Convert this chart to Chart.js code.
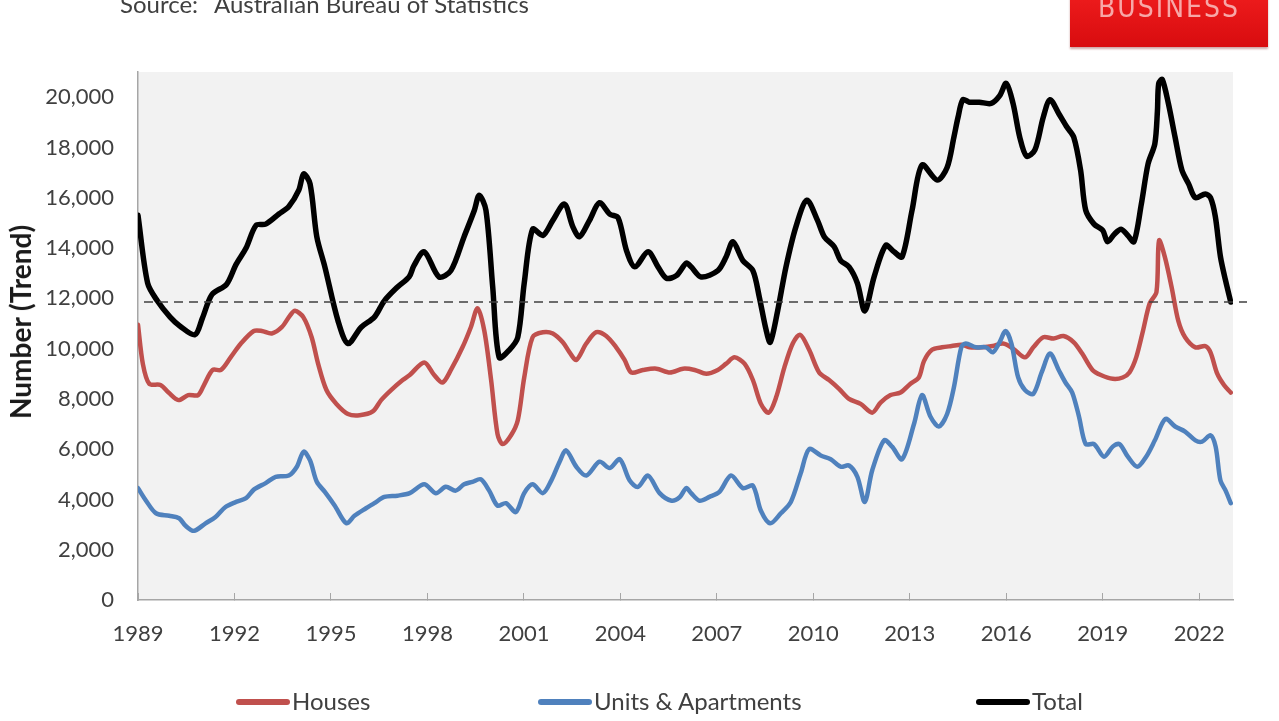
<!DOCTYPE html>
<html lang="en">
<head>
<meta charset="utf-8">
<title>Dwelling approvals</title>
<script src="https://cdn.jsdelivr.net/npm/chart.js@4.4.1/dist/chart.umd.min.js"></script>
<style>
  body { margin: 0; background: #fff; }
  .page { position: relative; width: 1279px; height: 721px; overflow: hidden; font-family: Lato, sans-serif; color: #404040; }
  .chart-wrap { position: absolute; left: 0; top: 0; width: 1279px; height: 721px; }
  .source { position: absolute; top: -11px; font-size: 24px; white-space: nowrap; }
  .source.label { left: 120px; }
  .source.text { left: 214px; }
  .brand {
    position: absolute; left: 1070px; top: -20px; width: 198px; height: 67px;
    background: linear-gradient(#f42020, #d80c0f);
    box-shadow: 0 2px 2px rgba(120, 0, 0, 0.35);
    color: #f7a7a7; font-family: "DejaVu Sans Condensed", "DejaVu Sans", sans-serif;
    font-size: 28px; letter-spacing: 2px; text-align: center; line-height: 56px;
  }
  .y-title {
    position: absolute; left: 20px; top: 322px; transform: translate(-50%, -50%) rotate(-90deg);
    font-weight: 700; font-size: 28px; color: #1a1a1a; white-space: nowrap;
  }
  .legend-item { position: absolute; top: 686px; font-size: 24px; line-height: 30px; white-space: nowrap; color: #404040; }
  .legend-item i { display: inline-block; width: 54px; height: 6px; border-radius: 3px; vertical-align: middle; margin-right: 2px; position: relative; top: -2px; }
</style>
</head>
<body>
<div class="page">
  <div class="chart-wrap"><canvas id="approvalsChart"></canvas></div>
  <div class="source label">Source:</div>
  <div class="source text">Australian Bureau of Statistics</div>
  <div class="brand">BUSINESS</div>
  <div class="y-title">Number (Trend)</div>
  <div id="legendRoot"></div>
</div>
<script>
// values, x = decimal year
const housesYears = [1989.0, 1989.15, 1989.35, 1989.7, 1989.95, 1990.26, 1990.56, 1990.87, 1991.07, 1991.32, 1991.58, 1991.88,
  1992.2, 1992.6, 1992.85, 1993.16, 1993.47, 1993.72, 1993.88, 1994.14, 1994.4, 1994.6, 1994.86, 1995.17, 1995.53, 1995.89,
  1996.3, 1996.56, 1996.87, 1997.23, 1997.45, 1997.9, 1998.21, 1998.47, 1998.73, 1999.09, 1999.35, 1999.56, 1999.77, 1999.98,
  2000.18, 2000.34, 2000.6, 2000.81, 2001.01, 2001.27, 2001.59, 2001.9, 2002.21, 2002.42, 2002.63, 2002.94, 2003.25, 2003.56,
  2003.87, 2004.13, 2004.34, 2004.7, 2005.12, 2005.54, 2005.95, 2006.31, 2006.67, 2007.03, 2007.29, 2007.55, 2007.86, 2008.12,
  2008.37, 2008.61, 2008.84, 2009.1, 2009.36, 2009.59, 2009.87, 2010.18, 2010.49, 2010.8, 2011.11, 2011.47, 2011.83, 2012.09,
  2012.4, 2012.71, 2013.02, 2013.28, 2013.44, 2013.69, 2014.0, 2014.3, 2014.62, 2014.85, 2015.27, 2015.58, 2015.9, 2016.21,
  2016.58, 2016.84, 2017.15, 2017.47, 2017.78, 2018.1, 2018.36, 2018.68, 2018.94, 2019.31, 2019.62, 2019.83, 2020.04, 2020.25,
  2020.46, 2020.67, 2020.75, 2020.93, 2021.14, 2021.35, 2021.56, 2021.88, 2022.19, 2022.35, 2022.56, 2022.77, 2022.98];
const housesValues = [10950, 9400, 8600, 8550, 8250, 7950, 8150, 8150, 8600, 9150, 9150, 9650,
  10200, 10700, 10700, 10600, 10850, 11300, 11500, 11250, 10450, 9400, 8350, 7800, 7400, 7350,
  7500, 7950, 8350, 8750, 8950, 9450, 8950, 8650, 9150, 10050, 10850, 11600, 10700, 8750,
  6600, 6200, 6550, 7150, 8850, 10450, 10650, 10600, 10250, 9850, 9550, 10200, 10650, 10500,
  10050, 9550, 9050, 9150, 9200, 9050, 9200, 9150, 9000, 9150, 9400, 9650, 9400, 8750,
  7800, 7450, 8050, 9250, 10200, 10550, 9950, 9050, 8750, 8400, 8000, 7800, 7450, 7850,
  8150, 8250, 8600, 8850, 9500, 9950, 10050, 10100, 10150, 10050, 10050, 10100, 10200, 10000,
  9650, 10050, 10450, 10400, 10500, 10250, 9800, 9150, 8950, 8800, 8850, 9050, 9650, 10700,
  11800, 12250, 14300, 13650, 12450, 11100, 10450, 10050, 10100, 9850, 9000, 8550, 8250];

const unitsYears = [1989.0, 1989.25, 1989.56, 1989.97, 1990.28, 1990.48, 1990.74, 1991.1, 1991.41, 1991.72, 1992.05, 1992.36,
  1992.61, 1992.97, 1993.28, 1993.69, 1993.94, 1994.15, 1994.35, 1994.56, 1994.81, 1995.12, 1995.48, 1995.73, 1996.09, 1996.35,
  1996.66, 1997.07, 1997.45, 1997.9, 1998.26, 1998.57, 1998.88, 1999.14, 1999.4, 1999.66, 1999.92, 2000.18, 2000.44, 2000.75,
  2001.01, 2001.27, 2001.59, 2001.85, 2002.11, 2002.31, 2002.63, 2002.94, 2003.35, 2003.67, 2003.98, 2004.29, 2004.55, 2004.86,
  2005.22, 2005.59, 2005.85, 2006.05, 2006.2, 2006.46, 2006.77, 2007.08, 2007.44, 2007.81, 2008.12, 2008.37, 2008.66, 2008.99,
  2009.3, 2009.61, 2009.87, 2010.23, 2010.54, 2010.85, 2011.11, 2011.37, 2011.6, 2011.83, 2012.2, 2012.45, 2012.76, 2013.13,
  2013.38, 2013.64, 2013.9, 2014.16, 2014.37, 2014.6, 2014.74, 2015.06, 2015.37, 2015.58, 2015.79, 2015.98, 2016.16, 2016.37,
  2016.58, 2016.84, 2017.1, 2017.36, 2017.63, 2017.84, 2018.05, 2018.26, 2018.47, 2018.73, 2019.04, 2019.31, 2019.52, 2019.78,
  2020.07, 2020.35, 2020.62, 2020.95, 2021.25, 2021.56, 2021.88, 2022.09, 2022.35, 2022.51, 2022.66, 2022.82, 2022.98];
const unitsValues = [4450, 3950, 3450, 3350, 3250, 2950, 2750, 3050, 3300, 3700, 3900, 4050,
  4400, 4650, 4900, 4950, 5300, 5900, 5550, 4700, 4300, 3750, 3050, 3350, 3650, 3850,
  4100, 4150, 4250, 4600, 4250, 4500, 4350, 4600, 4700, 4800, 4350, 3750, 3850, 3500,
  4250, 4600, 4250, 4750, 5500, 5950, 5300, 4950, 5500, 5250, 5600, 4750, 4500, 4950,
  4250, 3950, 4100, 4450, 4250, 3950, 4100, 4300, 4950, 4450, 4550, 3550, 3050, 3450,
  3900, 5050, 6000, 5750, 5600, 5300, 5350, 4900, 3900, 5150, 6350, 6100, 5600, 7000,
  8150, 7300, 6900, 7400, 8450, 10050, 10200, 10050, 10050, 9850, 10250, 10700, 10200, 8850,
  8350, 8200, 9050, 9800, 9150, 8650, 8250, 7300, 6200, 6200, 5700, 6100, 6200, 5700,
  5300, 5700, 6350, 7200, 6900, 6700, 6350, 6300, 6550, 6100, 4750, 4350, 3850];

const totalYears = [1989.0, 1989.3, 1989.6, 1990.0, 1990.3, 1990.77, 1991.0, 1991.3, 1991.75, 1992.05, 1992.36, 1992.67,
  1992.97, 1993.38, 1993.69, 1994.0, 1994.15, 1994.35, 1994.56, 1994.81, 1995.22, 1995.53, 1995.94, 1996.35, 1996.66, 1997.07,
  1997.43, 1997.58, 1997.9, 1998.36, 1998.73, 1999.14, 1999.46, 1999.61, 1999.82, 2000.03, 2000.23, 2000.55, 2000.81, 2001.01,
  2001.27, 2001.59, 2001.9, 2002.26, 2002.52, 2002.73, 2003.04, 2003.35, 2003.67, 2003.93, 2004.19, 2004.45, 2004.86, 2005.17,
  2005.43, 2005.74, 2006.05, 2006.2, 2006.51, 2007.03, 2007.29, 2007.5, 2007.81, 2008.12, 2008.32, 2008.53, 2008.66, 2008.89,
  2009.15, 2009.46, 2009.8, 2010.13, 2010.34, 2010.65, 2010.85, 2011.11, 2011.37, 2011.6, 2011.89, 2012.25, 2012.51, 2012.76,
  2013.07, 2013.38, 2013.85, 2014.16, 2014.37, 2014.5, 2014.65, 2014.85, 2015.16, 2015.53, 2015.79, 2016.0, 2016.21, 2016.42,
  2016.63, 2016.89, 2017.15, 2017.36, 2017.63, 2017.89, 2018.1, 2018.31, 2018.47, 2018.73, 2019.0, 2019.15, 2019.36, 2019.57,
  2019.78, 2019.97, 2020.2, 2020.41, 2020.62, 2020.7, 2020.74, 2020.85, 2021.04, 2021.25, 2021.46, 2021.67, 2021.88, 2022.19,
  2022.35, 2022.5, 2022.66, 2022.82, 2022.98];
const totalValues = [15300, 12600, 11900, 11250, 10900, 10550, 11200, 12150, 12550, 13350, 14000, 14900,
  14950, 15350, 15650, 16300, 16950, 16550, 14450, 13250, 11100, 10200, 10850, 11250, 11900, 12450,
  12850, 13300, 13850, 12850, 13100, 14450, 15500, 16100, 15500, 12450, 9650, 9950, 10450, 12600,
  14750, 14500, 15100, 15750, 14850, 14450, 15100, 15800, 15350, 15200, 13900, 13250, 13850, 13250,
  12800, 12900, 13400, 13250, 12850, 13100, 13650, 14250, 13500, 13100, 12050, 10750, 10250, 11500,
  13250, 14850, 15900, 15100, 14450, 14050, 13500, 13250, 12600, 11500, 12850, 14100, 13850, 13650,
  15500, 17300, 16700, 17200, 18400, 19200, 19900, 19800, 19800, 19750, 20050, 20550, 19750, 18400,
  17650, 17900, 19200, 19900, 19350, 18800, 18400, 17100, 15500, 14950, 14700, 14250, 14550, 14750,
  14500, 14250, 15750, 17350, 18150, 19450, 20550, 20700, 19750, 18400, 17100, 16550, 16000, 16150,
  16000, 15250, 13650, 12700, 11850];

// latest total, shown as the dashed reference level
const latestLevel = 11850;

const xTickYears = [1989, 1992, 1995, 1998, 2001, 2004, 2007, 2010, 2013, 2016, 2019, 2022];
const yTickValues = [0, 2000, 4000, 6000, 8000, 10000, 12000, 14000, 16000, 18000, 20000];

const seriesNames = ['Houses', 'Units & Apartments', 'Total'];
const seriesColors = ['#c0504d', '#4f81bd', '#000000'];

function toPoints(xs, ys) {
  return xs.map((x, i) => ({ x, y: ys[i] }));
}

const plotBackground = {
  id: 'plotBackground',
  beforeDraw(chart) {
    const { ctx, chartArea } = chart;
    ctx.save();
    ctx.fillStyle = '#f2f2f2';
    ctx.fillRect(chartArea.left, chartArea.top, chartArea.right - chartArea.left, chartArea.bottom - chartArea.top);
    ctx.restore();
  }
};

const referenceLine = {
  id: 'referenceLine',
  afterDatasetsDraw(chart) {
    const { ctx, chartArea } = chart;
    const y = chart.scales.y.getPixelForValue(latestLevel);
    ctx.save();
    ctx.strokeStyle = '#404040';
    ctx.lineWidth = 1.5;
    ctx.setLineDash([9, 6]);
    ctx.beginPath();
    ctx.moveTo(chartArea.left + 6, y);
    ctx.lineTo(chartArea.right + 14, y);
    ctx.stroke();
    ctx.restore();
  }
};

function renderLegend() {
  const lefts = [236, 538, 976];
  document.querySelector('#legendRoot').innerHTML = seriesNames.map((name, i) => `
    <span class="legend-item" style="left:${lefts[i]}px"><i style="background:${seriesColors[i]}"></i>${name}</span>
  `).join('');
}

const tickFont = { family: 'Lato', size: 22 };

new Chart(document.querySelector('#approvalsChart'), {
  type: 'line',
  data: {
    datasets: [
      { label: seriesNames[0], data: toPoints(housesYears, housesValues), borderColor: seriesColors[0], borderWidth: 4.5, order: 3 },
      { label: seriesNames[1], data: toPoints(unitsYears, unitsValues), borderColor: seriesColors[1], borderWidth: 4.5, order: 2 },
      { label: seriesNames[2], data: toPoints(totalYears, totalValues), borderColor: seriesColors[2], borderWidth: 5.5, order: 1 }
    ]
  },
  options: {
    responsive: true,
    maintainAspectRatio: false,
    animation: false,
    layout: { padding: { top: 72, right: 46, bottom: 0, left: 0 } },
    elements: {
      point: { radius: 0 },
      line: { tension: 0.3, borderJoinStyle: 'round', borderCapStyle: 'round', fill: false }
    },
    plugins: {
      legend: { display: false },
      tooltip: { enabled: false }
    },
    scales: {
      x: {
        type: 'linear',
        min: 1989,
        max: 2023.05,
        afterBuildTicks: (scale) => { scale.ticks = xTickYears.map((value) => ({ value })); },
        afterFit: (scale) => { scale.height = 121; },
        border: { color: '#a6a6a6', width: 1.5 },
        grid: { drawOnChartArea: false, drawTicks: true, tickLength: -7, color: '#a6a6a6' },
        ticks: {
          autoSkip: false,
          maxRotation: 0,
          padding: 28,
          color: '#404040',
          font: tickFont,
          callback: (value) => String(value)
        }
      },
      y: {
        min: 0,
        max: 21000,
        afterBuildTicks: (scale) => { scale.ticks = yTickValues.map((value) => ({ value })); },
        afterFit: (scale) => { scale.width = 138; },
        border: { color: '#a6a6a6', width: 1.5 },
        grid: { drawOnChartArea: false, drawTicks: false },
        ticks: {
          autoSkip: false,
          padding: 24,
          color: '#404040',
          font: tickFont,
          callback: (value) => value.toLocaleString('en-US')
        }
      }
    }
  },
  plugins: [plotBackground, referenceLine]
});

renderLegend();
</script>
</body>
</html>
